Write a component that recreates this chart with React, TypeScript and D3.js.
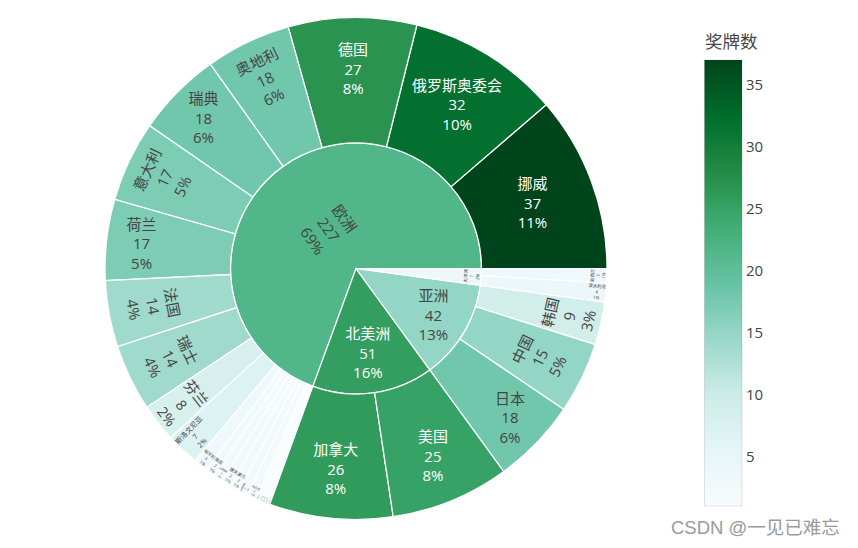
import React, { useMemo } from 'react';
import * as d3 from 'd3';

// ---------- data ----------
const continents = ['欧洲', '北美洲', '亚洲', '大洋洲'];
const europeCountries = ['挪威', '俄罗斯奥委会', '德国', '奥地利', '瑞典', '意大利', '荷兰', '法国', '瑞士', '芬兰', '斯洛文尼亚', '匈牙利', '英国', '比利时', '捷克', '波兰', '白俄罗斯', '乌克兰', '斯洛伐克', '西班牙', '爱沙尼亚'];
const europeMedals = [37, 32, 27, 18, 18, 17, 17, 14, 14, 8, 7, 3, 2, 2, 2, 2, 2, 2, 1, 1, 1];
const northAmericaCountries = ['加拿大', '美国'];
const northAmericaMedals = [26, 25];
const asiaCountries = ['日本', '中国', '韩国'];
const asiaMedals = [18, 15, 9];
const oceaniaCountries = ['澳大利亚', '新西兰'];
const oceaniaMedals = [4, 3];
const colorbarTicks = [5, 10, 15, 20, 25, 30, 35];
const colorbarTitle = '奖牌数';
const colorStops = ['rgb(247,252,253)', 'rgb(229,245,249)', 'rgb(204,236,230)', 'rgb(153,216,201)', 'rgb(102,194,164)', 'rgb(65,174,118)', 'rgb(35,139,69)', 'rgb(0,109,44)', 'rgb(0,68,27)'];
const watermark = 'CSDN @一见已难忘';

// ---------- layout ----------
const W = 858;
const H = 548;
const CX = 356;
const CY = 268.5;
const R = 251;
const FS = 15;
const FONT = "'Open Sans', 'Noto Sans CJK SC', verdana, arial, sans-serif";
const TEXT_PAD = 3;
const LINE = 1.3;
const A_MINUS_D = 0.388;
const BOX_H = FS * (2 * LINE + 1.362);

function calcMaxHalfSize(a: number, halfAngle: number, r: number, ring: number) {
  const q = a + 1 / (2 * Math.tan(halfAngle));
  return r * Math.min(1 / (Math.sqrt(q * q + 0.5) + q), ring / (Math.sqrt(a * a + ring / 2) + a));
}
function calcRotate(t: number) {
  return ((180 / Math.PI) * t + 720) % 180 - 90;
}
function calcRCenter(a: number, b: number) {
  return Math.cos(b) - a * b;
}
function wrapAngle(d: number) {
  const tp = 2 * Math.PI;
  return (((d + Math.PI) % tp) + tp) % tp - Math.PI;
}
function insideTransform(w: number, h: number, rpx0: number, rpx1: number, x0: number, x1: number) {
  const span = x1 - x0;
  const halfAngle = 0.5 * Math.min(wrapAngle(span) || Math.PI, Math.PI);
  const ring = 1 - rpx0 / rpx1;
  const xmid = (x0 + x1) / 2;
  const midAngle = -(xmid - Math.PI / 2);
  let rIns: number;
  if (rpx0 === 0 && Math.abs(span - 2 * Math.PI) < 1e-9) rIns = 1;
  else rIns = Math.max(0, Math.min(1 / (1 + 1 / Math.sin(halfAngle)), ring / 2));
  const r = rpx1;
  const all: { scale: number; rCenter: number; rotate: number }[] = [];
  const hor = { scale: (rIns * r * 2) / Math.hypot(w, h), rCenter: 1 - rIns, rotate: 0 };
  if (hor.scale >= 1) return hor;
  all.push(hor);
  const rr = Math.max(0, r - 2 * TEXT_PAD);
  let a = w / h;
  let s = calcMaxHalfSize(a, halfAngle, rr, ring);
  all.push({ scale: (s * 2) / h, rCenter: calcRCenter(a, s / rr), rotate: calcRotate(midAngle) });
  a = h / w;
  s = calcMaxHalfSize(a, halfAngle, rr, ring);
  all.push({ scale: (s * 2) / w, rCenter: calcRCenter(a, s / rr), rotate: calcRotate(midAngle + Math.PI / 2) });
  let id = 0;
  let mx = 0;
  all.forEach((t, k) => {
    if (mx < t.scale) {
      mx = t.scale;
      id = k;
    }
  });
  return all[id];
}

function formatPercent(v: number) {
  let tx = Math.round(100 * v) + '%';
  if (tx === '0%') {
    let p = (v * 100).toPrecision(3);
    if (p.indexOf('.') !== -1) p = p.replace(/0+$/, '').replace(/\.$/, '');
    tx = p + '%';
  }
  return tx;
}

export default function App() {
  const model = useMemo(() => {
    const groups = [
      { name: continents[0], countries: europeCountries, medals: europeMedals },
      { name: continents[1], countries: northAmericaCountries, medals: northAmericaMedals },
      { name: continents[2], countries: asiaCountries, medals: asiaMedals },
      { name: continents[3], countries: oceaniaCountries, medals: oceaniaMedals },
    ];
    const allLeaf = groups.flatMap((g) => g.medals);
    const cmin = d3.min(allLeaf) as number;
    const cmax = d3.max(allLeaf) as number;
    const color = d3
      .scaleLinear<string>()
      .domain(colorStops.map((_, i) => cmin + ((cmax - cmin) * i) / (colorStops.length - 1)))
      .range(colorStops)
      .interpolate(d3.interpolateRgb);

    const rootData: any = {
      name: 'root',
      children: groups.map((g) => ({
        name: g.name,
        children: g.countries.map((c, i) => ({ name: c, value: g.medals[i] })),
      })),
    };
    const root = d3
      .hierarchy(rootData)
      .sum((d: any) => d.value || 0)
      .sort((a, b) => (b.value as number) - (a.value as number));
    d3.partition().size([2 * Math.PI, 3])(root as any);
    const total = root.value as number;
    const rScale = d3.scaleLinear().domain([1, 3]).range([0, R]);
    const arc = d3.arc<any>();

    const canvas = document.createElement('canvas');
    const ctx = canvas.getContext('2d')!;
    ctx.font = `${FS}px ${FONT}`;

    const nodes = root.descendants().filter((n) => n.depth > 0) as any[];
    return {
      color,
      cmin,
      cmax,
      items: nodes.map((n) => {
        const leaves = n.leaves();
        const sv = d3.sum(leaves, (l: any) => l.value);
        const cval = n.children ? d3.sum(leaves, (l: any) => l.value * l.value) / sv : n.value;
        const fill = color(cval);
        const rpx0 = rScale(n.y0);
        const rpx1 = rScale(n.y1);
        const path = arc({
          innerRadius: rpx0,
          outerRadius: rpx1,
          startAngle: Math.PI / 2 - n.x1,
          endAngle: Math.PI / 2 - n.x0,
        }) as string;
        const lines = [n.data.name, String(n.value), formatPercent(n.value / total)];
        const w = Math.max(...lines.map((l) => ctx.measureText(l).width));
        const t = insideTransform(w, BOX_H, rpx0, rpx1, n.x0, n.x1);
        const xmid = (n.x0 + n.x1) / 2;
        const tx = CX + rpx1 * Math.cos(xmid) * t.rCenter;
        const ty = CY - rpx1 * Math.sin(xmid) * t.rCenter;
        const c = d3.rgb(fill);
        const bright = (c.r * 299 + c.g * 587 + c.b * 114) / 1000;
        const textColor = bright >= 128 ? '#444' : '#fff';
        return { key: n.data.name + n.depth, path, fill, lines, t, tx, ty, textColor };
      }),
    };
  }, []);

  const cbTop = 60;
  const cbBottom = 506;
  const cbX = 704.5;
  const cbW = 37.5;
  const yScale = d3.scaleLinear().domain([model.cmin, model.cmax]).range([cbBottom, cbTop]);
  const gradStops = colorStops.map((c, i) => ({ offset: 1 - i / (colorStops.length - 1), c }));

  return (
    <svg width={W} height={H} style={{ position: 'absolute', left: 0, top: 0, background: '#fff' }} fontFamily={FONT}>
      <defs>
        <linearGradient id="cbgrad" x1="0" y1="0" x2="0" y2="1">
          {gradStops
            .slice()
            .reverse()
            .map((s, i) => (
              <stop key={i} offset={s.offset} stopColor={s.c} />
            ))}
        </linearGradient>
      </defs>
      <g>
        {model.items.map((it) => (
          <path key={it.key} d={it.path} transform={`translate(${CX},${CY})`} fill={it.fill} stroke="#fff" strokeWidth={1.25} />
        ))}
      </g>
      <g>
        {model.items.map((it) => (
          <text
            key={'t' + it.key}
            transform={`translate(${it.tx},${it.ty}) scale(${Math.min(1, it.t.scale)}) rotate(${it.t.rotate})`}
            textAnchor="middle"
            fontSize={FS}
            fill={it.textColor}
          >
            {it.lines.map((l, i) => (
              <tspan key={i} x={0} y={(i - (it.lines.length - 1) / 2) * LINE * FS + A_MINUS_D * FS}>
                {l}
              </tspan>
            ))}
          </text>
        ))}
      </g>
      <g>
        <text x={cbX + 0.5} y={47.5} fontSize={17.5} fill="#444">
          {colorbarTitle}
        </text>
        <rect x={cbX} y={cbTop} width={cbW} height={cbBottom - cbTop} fill="url(#cbgrad)" stroke="#444" strokeOpacity={0.15} strokeWidth={1} />
        {colorbarTicks.map((v) => (
          <text key={v} x={746} y={yScale(v) + 0.36 * FS} fontSize={FS} fill="#444">
            {v}
          </text>
        ))}
      </g>
      <text x={671} y={534} fontSize={18.5} fill="#9a9a9a" fontFamily="'Liberation Sans', Arial, 'Noto Sans CJK SC', sans-serif">
        {watermark}
      </text>
    </svg>
  );
}
